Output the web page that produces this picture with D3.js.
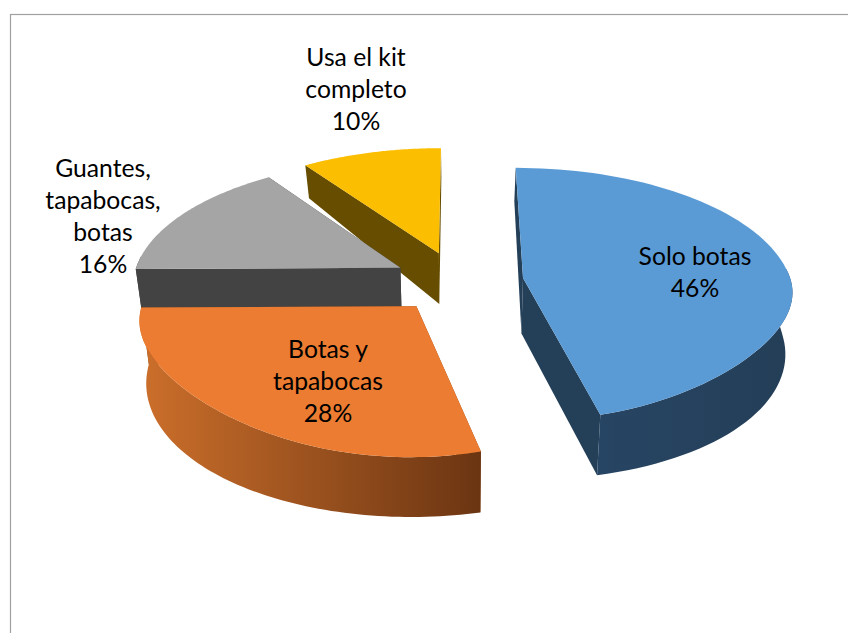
<!DOCTYPE html>
<html>
<head>
<meta charset="utf-8">
<script src="https://cdn.jsdelivr.net/npm/d3@7"></script>
<style>
  html, body { margin: 0; padding: 0; background: #fff; overflow: hidden; }
  text { font-family: Lato, "Open Sans", sans-serif; font-size: 24.7px; fill: #000; }
</style>
</head>
<body>
<div id="chart"></div>
<script>
// values (the labels round them to whole percents)
var categories = ["Solo botas", "Botas y tapabocas", "Guantes, tapabocas, botas", "Usa el kit completo"];
var values = [46.4, 28.4, 15.5, 9.7];
var labelLines = [["Solo botas"], ["Botas y", "tapabocas"], ["Guantes,", "tapabocas,", "botas"], ["Usa el kit", "completo"]];

var topColors = ["#5B9BD5", "#EB7C31", "#A5A5A5", "#FBBE00"];
var faceColors = ["#243F58", "#8A4A1C", "#434343", "#664D00"];
var wallFrom = ["#284869", "#CC6F2B", "#434343", "#664D00"];
var wallTo = ["#243E57", "#6B3512", "#434343", "#664D00"];

// label anchor: centre x, first baseline
var labelAnchors = [[695, 265], [328, 358], [103, 177], [356, 66]];
var lineStep = 32;

var width = 848, height = 633;
var cx = 458, cy = 281.5;
var radiusX = 268, radiusY = 125;
var explode = 0.245, persp = 0.127, depth = 56, shrink = 0.024;
var flatten = 0.15; // front rim of the top surface is flatter than a plain ellipse

var svg = d3.select("#chart").append("svg")
    .attr("width", width)
    .attr("height", height);

svg.append("rect")
    .attr("x", 10.5)
    .attr("y", 14.5)
    .attr("width", 900)
    .attr("height", 700)
    .attr("fill", "#fff")
    .attr("stroke", "#A0A0A0")
    .attr("stroke-width", 1.2);

var pie = d3.pie().sort(null);
var arcs = pie(values);

// disc coordinates (u right, v towards viewer) + z down the side, to screen
function project(u, v, z) {
    var s = 1 / (1 - persp * v) * (1 - shrink * z);
    var d = depth * (v < 0 ? 1 + 0.44 * v : 1 + 0.12 * v);
    return [cx + radiusX * u * s, cy + radiusY * v * s + d * z];
}

var line = d3.line();
var defs = svg.append("defs");

function arcAngles(a) {
    var n = 80;
    return d3.range(n + 1).map(function(i) {
        return a.startAngle + (a.endAngle - a.startAngle) * i / n;
    });
}

function arcPoints(angles, z, offU, offV) {
    return angles.map(function(t) {
        var v = -Math.cos(t);
        if (v > 0 && z == 0) v = v - flatten * (v - v * v * v);
        return project(offU + Math.sin(t), offV + v, z);
    });
}

// back to front, so the orange slice sits on the grey one
var drawOrder = [3, 2, 1, 0];

drawOrder.forEach(function(i) {
    var a = arcs[i];
    var mid = (a.startAngle + a.endAngle) / 2;
    var offU = explode * Math.sin(mid), offV = -explode * Math.cos(mid);
    var angles = arcAngles(a);
    var topArc = arcPoints(angles, 0, offU, offV);
    var lowArc = arcPoints(angles, 1, offU, offV);
    var apexTop = project(offU, offV, 0), apexLow = project(offU, offV, 1);
    var g = svg.append("g").attr("class", "slice");

    var xs = d3.extent(topArc, function(p) { return p[0]; });
    var grad = defs.append("linearGradient")
        .attr("id", "wall" + i)
        .attr("gradientUnits", "userSpaceOnUse")
        .attr("x1", xs[0]).attr("x2", xs[1])
        .attr("y1", 0).attr("y2", 0);
    grad.append("stop").attr("offset", "0%").attr("stop-color", wallFrom[i]);
    grad.append("stop").attr("offset", "100%").attr("stop-color", wallTo[i]);

    // the two cut faces
    g.append("path")
        .attr("d", line([topArc[0], apexTop, apexLow, lowArc[0]]) + "Z")
        .attr("fill", faceColors[i]);
    g.append("path")
        .attr("d", line([topArc[topArc.length - 1], apexTop, apexLow, lowArc[lowArc.length - 1]]) + "Z")
        .attr("fill", faceColors[i]);

    // outer wall, only the part that faces the viewer
    var front = angles.filter(function(t) { return Math.cos(t) < 0.1; });
    if (front.length > 1) {
        var wallTop = arcPoints(front, 0, offU, offV);
        var wallLow = arcPoints(front, 1, offU, offV);
        g.append("path")
            .attr("d", line(wallTop.concat(wallLow.reverse())) + "Z")
            .attr("fill", "url(#wall" + i + ")");
    }

    // top
    g.append("path")
        .attr("d", line([apexTop].concat(topArc)) + "Z")
        .attr("fill", topColors[i]);
});

// labels
var total = d3.sum(values);
labelLines.forEach(function(lines, i) {
    var t = svg.append("text")
        .attr("text-anchor", "middle")
        .attr("transform", "translate(" + labelAnchors[i][0] + "," + labelAnchors[i][1] + ")");
    lines.concat([d3.format(".0%")(values[i] / total)]).forEach(function(l, j) {
        t.append("tspan").attr("x", 0).attr("y", j * lineStep).text(l);
    });
});
</script>
</body>
</html>
